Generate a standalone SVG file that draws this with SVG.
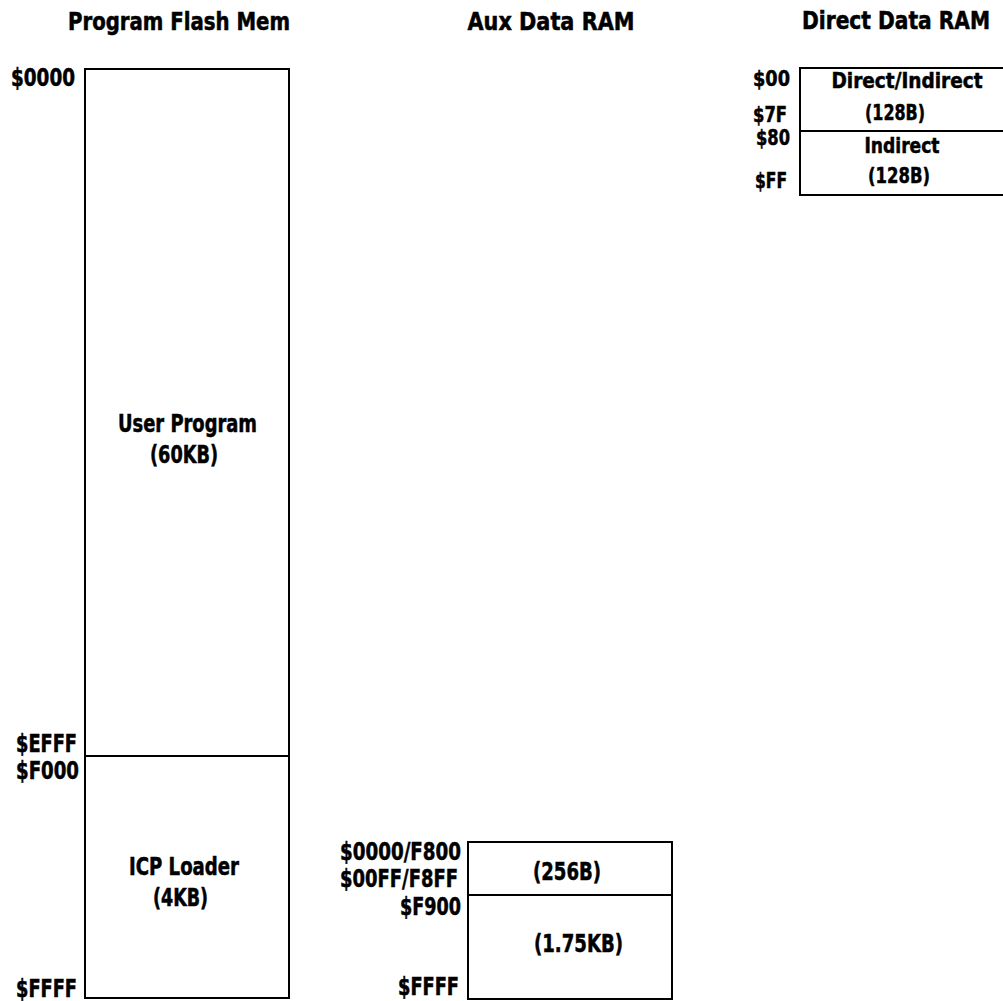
<svg xmlns="http://www.w3.org/2000/svg" width="1003" height="1001" viewBox="0 0 1003 1001">
<style>
text{font-family:"Liberation Sans Narrow","DejaVu Sans Condensed","Arial Narrow",sans-serif;font-weight:bold;font-size:24px;fill:#000;stroke:#000;stroke-width:0.5}
.m{text-anchor:middle}
.r{text-anchor:end}
.s{font-size:22px}
.box{fill:#fff;stroke:#000;stroke-width:2}
.div{stroke:#000;stroke-width:2}
</style>
<rect width="1003" height="1001" fill="#fff"/>
<g id="titles">
<text class="m" x="179" y="30" textLength="222" lengthAdjust="spacingAndGlyphs">Program Flash Mem</text>
<text class="m" x="551" y="30" textLength="167" lengthAdjust="spacingAndGlyphs">Aux Data RAM</text>
<text class="m" x="896" y="29" textLength="188" lengthAdjust="spacingAndGlyphs">Direct Data RAM</text>
</g>
<g id="flash">
<rect class="box" x="85" y="69" width="204" height="929"/>
<line class="div" x1="85" y1="756" x2="289" y2="756"/>
<text class="r" x="75" y="86" textLength="64" lengthAdjust="spacingAndGlyphs">$0000</text>
<text class="r" x="77" y="752" textLength="61" lengthAdjust="spacingAndGlyphs">$EFFF</text>
<text class="r" x="79" y="779" textLength="63" lengthAdjust="spacingAndGlyphs">$F000</text>
<text class="r" x="77" y="997" textLength="61" lengthAdjust="spacingAndGlyphs">$FFFF</text>
<text class="m" x="187.5" y="432" textLength="139" lengthAdjust="spacingAndGlyphs">User Program</text>
<text class="m" x="184" y="463" textLength="68" lengthAdjust="spacingAndGlyphs">(60KB)</text>
<text class="m" x="184" y="875" textLength="110" lengthAdjust="spacingAndGlyphs">ICP Loader</text>
<text class="m" x="180.5" y="906" textLength="55" lengthAdjust="spacingAndGlyphs">(4KB)</text>
</g>
<g id="aux">
<rect class="box" x="468" y="842" width="204" height="157"/>
<line class="div" x1="468" y1="895" x2="672" y2="895"/>
<text class="r" x="461" y="860" textLength="121" lengthAdjust="spacingAndGlyphs">$0000/F800</text>
<text class="r" x="458" y="887" textLength="118" lengthAdjust="spacingAndGlyphs">$00FF/F8FF</text>
<text class="r" x="461" y="915" textLength="61" lengthAdjust="spacingAndGlyphs">$F900</text>
<text class="r" x="459" y="995" textLength="61" lengthAdjust="spacingAndGlyphs">$FFFF</text>
<text class="m" x="567" y="880" textLength="68" lengthAdjust="spacingAndGlyphs">(256B)</text>
<text class="m" x="578.5" y="952" textLength="89" lengthAdjust="spacingAndGlyphs">(1.75KB)</text>
</g>
<g id="direct">
<rect class="box" x="800" y="68" width="204" height="127"/>
<line class="div" x1="800" y1="131" x2="1004" y2="131"/>
<text class="r s" x="790" y="86" textLength="37" lengthAdjust="spacingAndGlyphs">$00</text>
<text class="r s" x="787" y="122" textLength="34" lengthAdjust="spacingAndGlyphs">$7F</text>
<text class="r s" x="790" y="145" textLength="34" lengthAdjust="spacingAndGlyphs">$80</text>
<text class="r s" x="787" y="188" textLength="32" lengthAdjust="spacingAndGlyphs">$FF</text>
<text class="m s" x="907" y="88" textLength="151" lengthAdjust="spacingAndGlyphs">Direct/Indirect</text>
<text class="m s" x="895" y="120" textLength="60" lengthAdjust="spacingAndGlyphs">(128B)</text>
<text class="m s" x="902" y="153" textLength="75" lengthAdjust="spacingAndGlyphs">Indirect</text>
<text class="m s" x="899" y="183" textLength="62" lengthAdjust="spacingAndGlyphs">(128B)</text>
</g>
</svg>
